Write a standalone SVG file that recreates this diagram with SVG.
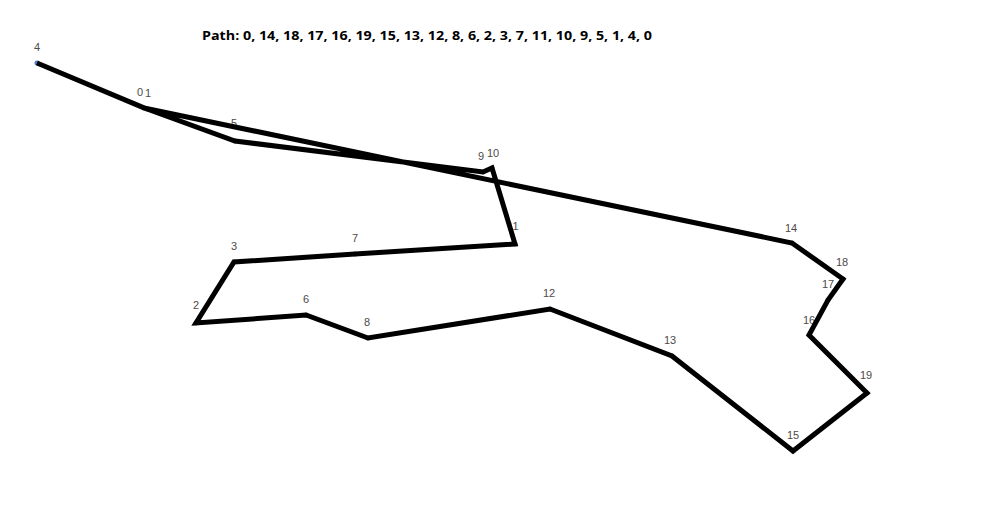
<svg xmlns="http://www.w3.org/2000/svg" width="989" height="523" viewBox="0 0 989 523">
<style>
.lbl{font-family:"Liberation Sans",Arial,sans-serif;font-size:11px;fill:#4e4a48;text-anchor:middle}
.dot{fill:#4a7fc0}
.route{fill:none;stroke:#000;stroke-width:5;stroke-linejoin:miter;stroke-linecap:round}
.title{font-family:"Open Sans","Liberation Sans",sans-serif;font-size:13px;font-weight:bold;fill:#000}
</style>
<rect width="989" height="523" fill="#fff"/>
<text class="title" x="202" y="40" textLength="450" lengthAdjust="spacingAndGlyphs">Path: 0, 14, 18, 17, 16, 19, 15, 13, 12, 8, 6, 2, 3, 7, 11, 10, 9, 5, 1, 4, 0</text>
<g id="nodes">
<g id="n0"><circle class="dot" cx="144" cy="108" r="2.5"/><text class="lbl" x="140" y="96">0</text></g>
<g id="n1"><circle class="dot" cx="147" cy="109" r="2.5"/><text class="lbl" x="148" y="97">1</text></g>
<g id="n2"><circle class="dot" cx="196" cy="323" r="2.5"/><text class="lbl" x="196" y="309">2</text></g>
<g id="n3"><circle class="dot" cx="234" cy="262" r="2.5"/><text class="lbl" x="234" y="250">3</text></g>
<g id="n4"><circle class="dot" cx="37" cy="63" r="2.5"/><text class="lbl" x="37" y="51">4</text></g>
<g id="n5"><circle class="dot" cx="235" cy="141" r="2.5"/><text class="lbl" x="234" y="127">5</text></g>
<g id="n6"><circle class="dot" cx="306" cy="315" r="2.5"/><text class="lbl" x="306" y="303">6</text></g>
<g id="n7"><circle class="dot" cx="355" cy="254" r="2.5"/><text class="lbl" x="355" y="242">7</text></g>
<g id="n8"><circle class="dot" cx="368" cy="338" r="2.5"/><text class="lbl" x="367" y="326">8</text></g>
<g id="n9"><circle class="dot" cx="483" cy="172" r="2.5"/><text class="lbl" x="481" y="160">9</text></g>
<g id="n10"><circle class="dot" cx="492" cy="168" r="2.5"/><text class="lbl" x="493" y="157">10</text></g>
<g id="n11"><circle class="dot" cx="515" cy="244" r="2.5"/><text class="lbl" x="513" y="230">11</text></g>
<g id="n12"><circle class="dot" cx="550" cy="309" r="2.5"/><text class="lbl" x="549" y="297">12</text></g>
<g id="n13"><circle class="dot" cx="672" cy="356" r="2.5"/><text class="lbl" x="670" y="344">13</text></g>
<g id="n14"><circle class="dot" cx="792" cy="243" r="2.5"/><text class="lbl" x="791" y="232">14</text></g>
<g id="n15"><circle class="dot" cx="793" cy="451" r="2.5"/><text class="lbl" x="793" y="439">15</text></g>
<g id="n16"><circle class="dot" cx="809" cy="335" r="2.5"/><text class="lbl" x="809" y="324">16</text></g>
<g id="n17"><circle class="dot" cx="828" cy="300" r="2.5"/><text class="lbl" x="828" y="288">17</text></g>
<g id="n18"><circle class="dot" cx="843" cy="279" r="2.5"/><text class="lbl" x="842" y="266">18</text></g>
<g id="n19"><circle class="dot" cx="867" cy="393" r="2.5"/><text class="lbl" x="866" y="379">19</text></g>
</g>
<g id="connectors">
<polyline class="route" points="144,108 792,243 843,279 828,300 809,335 867,393 793,451 672,356 550,309 368,338 306,315 196,323 234,262 355,254 515,244 492,168 483,172 235,141 147,109 37,63 144,108"/>
</g>
</svg>
